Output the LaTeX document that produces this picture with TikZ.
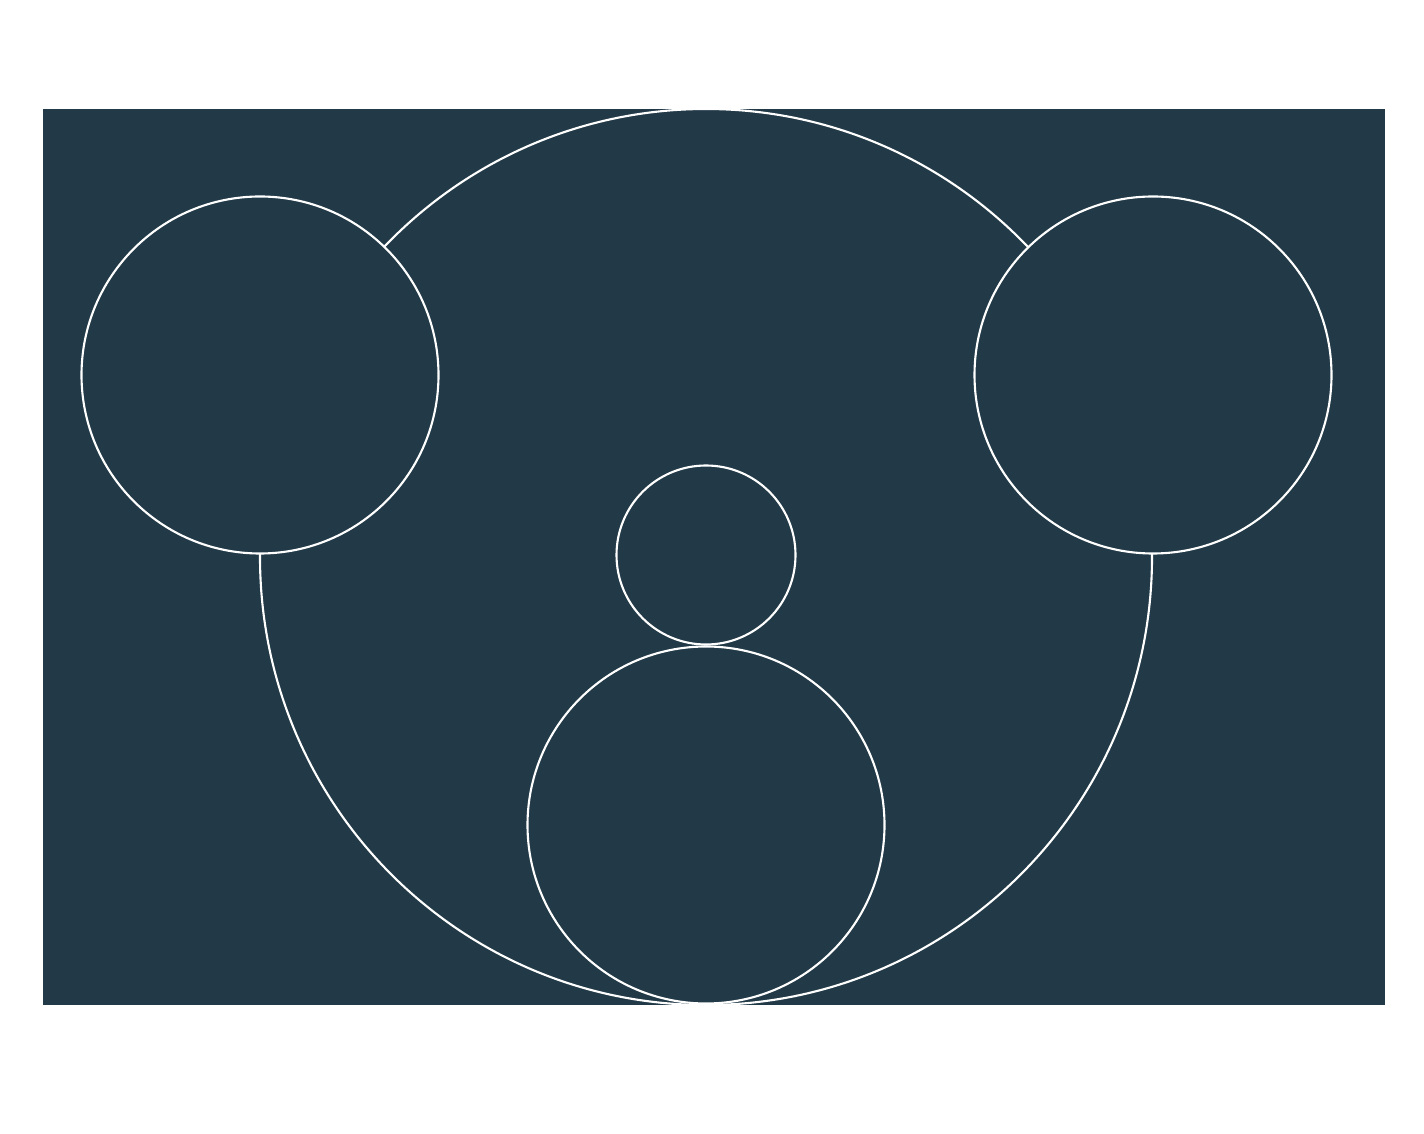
\documentclass[tikz,border=0pt]{standalone}
\usepackage{tikz}
\definecolor{panel}{HTML}{223A47}

\begin{document}
\begin{tikzpicture}[x=0.01cm,y=-0.01cm,
  ring/.style={draw=white,line width=0.6pt,fill=panel}]
\newcommand*{\cx}{706}; \newcommand*{\ey}{375}; \newcommand*{\ex}{447};
\useasboundingbox (0,0) rectangle (1424,1134);
\fill[panel] (43,109) rectangle (1385,1005);
% head, clipped to the panel
\begin{scope}
\clip (43,109) rectangle (1385,1005);
\draw[ring] (\cx,557) ellipse [x radius=446,y radius=448];
\end{scope}
% ears
\draw[ring] (\cx-\ex+1,\ey) circle [radius=178.5];
\draw[ring] (\cx+\ex,\ey) circle [radius=178.5];
% nose and mouth
\draw[ring] (\cx,555) circle [radius=89.5];
\draw[ring] (\cx,825) circle [radius=178.5];
\end{tikzpicture}
\end{document}
